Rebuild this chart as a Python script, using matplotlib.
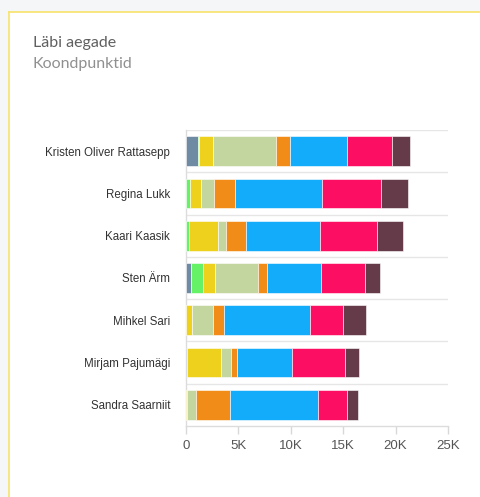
"""
Läbi aegade - koondpunktid, stacked horizontal bars per participant.
"""

import matplotlib.pyplot as plt
import numpy as np
from matplotlib.patches import Rectangle
from matplotlib.ticker import FuncFormatter, MultipleLocator

names = [
    "Kristen Oliver Rattasepp",
    "Regina Lukk",
    "Kaari Kaasik",
    "Sten Ärm",
    "Mihkel Sari",
    "Mirjam Pajumägi",
    "Sandra Saarniit",
]

# one list per stacked segment, left to right
seg_slate = [1100, 0, 0, 460, 0, 100, 0]
seg_green = [120, 370, 240, 1180, 0, 0, 0]
seg_yellow = [1310, 1080, 2790, 1110, 550, 3260, 100]
seg_sage = [6040, 1240, 810, 4100, 1980, 980, 840]
seg_orange = [1330, 2030, 1900, 900, 1140, 550, 3280]
seg_blue = [5440, 8240, 7030, 5110, 8140, 5240, 8330]
seg_pink = [4360, 5670, 5410, 4240, 3150, 5060, 2790]
seg_maroon = [1630, 2510, 2480, 1390, 2230, 1270, 1050]

series = [seg_slate, seg_green, seg_yellow, seg_sage,
          seg_orange, seg_blue, seg_pink, seg_maroon]
colors = ["#6f8aa3", "#66f266", "#edd11d", "#c4d6a0",
          "#f08c17", "#12acfa", "#fc0f62", "#653b4a"]

plt.rcParams["font.family"] = ["Liberation Sans", "DejaVu Sans"]

W, H = 481, 497
fig = plt.figure(figsize=(W / 100, H / 100), dpi=100)
fig.patch.set_facecolor("#f5f6f8")

# white card with yellow top/left border
card = Rectangle((9 / W, 0), 1, 1 - 12 / H, transform=fig.transFigure,
                 facecolor="white", edgecolor="none", zorder=-10)
fig.add_artist(card)
fig.add_artist(plt.Line2D([9 / W, 9 / W], [0, 1 - 12 / H], color="#f7e36b",
                          lw=1.2, transform=fig.transFigure, zorder=-5))
fig.add_artist(plt.Line2D([9 / W, 1], [1 - 12 / H, 1 - 12 / H], color="#f7e36b",
                          lw=1.2, transform=fig.transFigure, zorder=-5))

fig.text(33 / W, 1 - 43 / H, "Läbi aegade", fontsize=11.5, color="#606060",
         family="Lato", va="center")
fig.text(33 / W, 1 - 64 / H, "Koondpunktid", fontsize=11.5, color="#909090",
         family="Lato", va="center")

ax = fig.add_axes([186 / W, 71 / H, (448 - 186) / W, (426 - 130) / H])
ax.set_facecolor("white")

y = np.arange(len(names))
left = np.zeros(len(names))
for vals, col in zip(series, colors):
    ax.barh(y, vals, left=left, height=0.7, color=col,
            edgecolor="white", linewidth=0.4, zorder=3)
    left += np.array(vals)

ax.set_xlim(0, 25000)
ax.set_ylim(len(names) - 0.5, -0.5)
ax.xaxis.set_major_locator(MultipleLocator(5000))
ax.xaxis.set_major_formatter(
    FuncFormatter(lambda v, _: "0" if v == 0 else f"{int(v / 1000)}K"))

ax.set_yticks(y)
ax.set_yticklabels(names)
ax.set_yticks(np.arange(len(names)) - 0.5, minor=True)
ax.grid(axis="y", which="minor", color="#e6e6e6", lw=1, zorder=0)
ax.tick_params(axis="y", which="both", length=0, pad=11.5,
               labelsize=8.3, labelcolor="#333333")
ax.tick_params(axis="x", length=6, width=1, color="#d8d8d8",
               labelsize=9.5, labelcolor="#555555", pad=4)

for side in ("top", "right"):
    ax.spines[side].set_visible(False)
for side in ("left", "bottom"):
    ax.spines[side].set_color("#dcdcdc")
    ax.spines[side].set_linewidth(1)

fig.savefig("out.png", dpi=100)
